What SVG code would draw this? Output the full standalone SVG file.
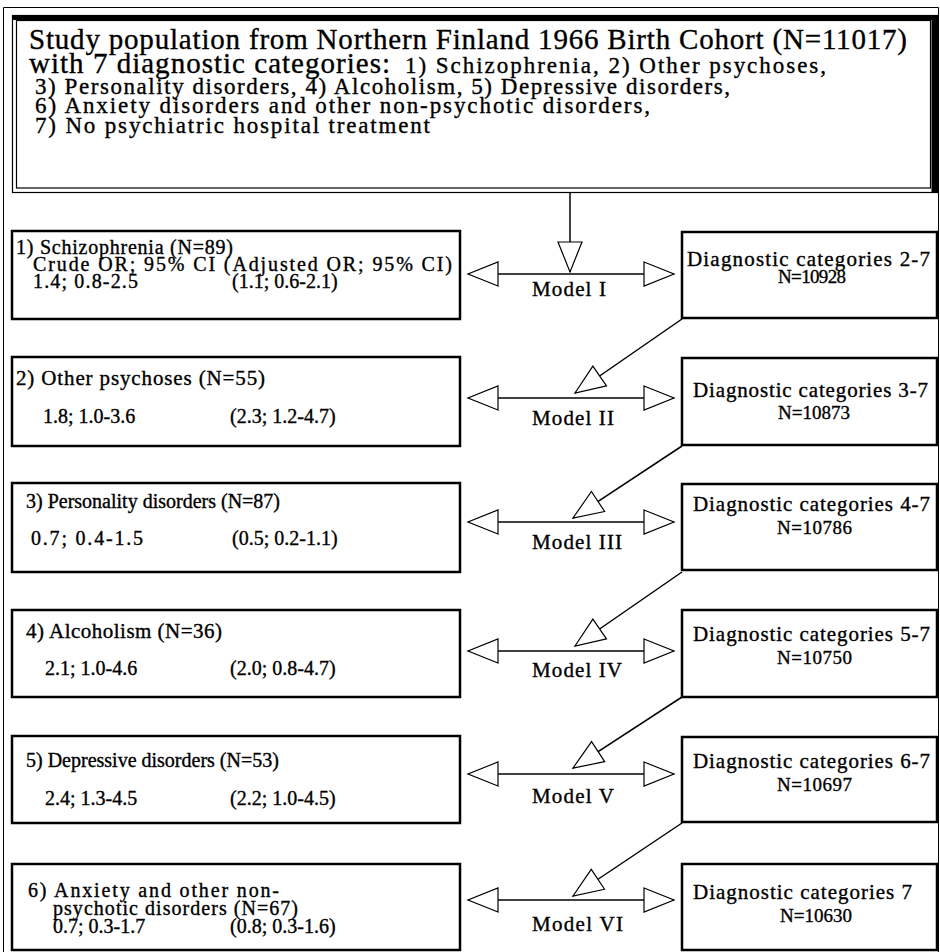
<svg xmlns="http://www.w3.org/2000/svg" width="940" height="952" viewBox="0 0 940 952">
<style>
text{font-family:"Liberation Serif","Times New Roman",serif;fill:#000;stroke:#000;stroke-width:0.35px}
.t1{font-size:29px}
.t2{font-size:23px}
.bx{font-size:21px}
.bs{font-size:20px}
.rb{font-size:21px}
.rn{font-size:19px}
.ml{font-size:21px}
.box{fill:#fff;stroke:#000;stroke-width:2.5}
.con{stroke:#000;stroke-width:1.5;fill:none}
</style>
<defs>
<marker id="hollow" viewBox="0 0 30 24" markerWidth="30" markerHeight="24" refX="30" refY="12" orient="auto-start-reverse" markerUnits="userSpaceOnUse" overflow="visible">
<path d="M0,0 L30,12 L0,24 Z" fill="#fff" stroke="#000" stroke-width="1.2" stroke-linejoin="miter"/>
</marker>
</defs>
<rect width="940" height="952" fill="#fff"/>
<path d="M3.5,952 V7.5 H938.5 V952" fill="none" stroke="#000" stroke-width="1"/>

<g id="title">
<rect x="12.5" y="15.5" width="925" height="177" fill="#fff" stroke="#000" stroke-width="1.2"/>
<rect x="16.5" y="20.5" width="914" height="167.5" fill="none" stroke="#000" stroke-width="1.2"/>
<rect x="12" y="15" width="926" height="5" fill="#000"/>
<rect x="931.5" y="15" width="6.5" height="178" fill="#000"/>
<text class="t1" x="29" y="49" textLength="878">Study population from Northern Finland 1966 Birth Cohort (N=11017)</text>
<text class="t1" x="29" y="73" textLength="361">with 7 diagnostic categories:</text>
<text class="t2" x="405" y="73" textLength="421">1) Schizophrenia, 2) Other psychoses,</text>
<text class="t2" x="35" y="94" textLength="695">3) Personality disorders, 4) Alcoholism, 5) Depressive disorders,</text>
<text class="t2" x="35" y="113" textLength="615">6) Anxiety disorders and other non-psychotic disorders,</text>
<text class="t2" x="35" y="133" textLength="395">7) No psychiatric hospital treatment</text>
</g>

<g id="left1">
<rect class="box" x="12" y="231" width="448" height="88"/>
<text class="bs" x="16" y="254" textLength="217">1) Schizophrenia (N=89)</text>
<text class="bs" x="33" y="271" textLength="419">Crude OR; 95% CI (Adjusted OR; 95% CI)</text>
<text class="bs" x="33" y="288" textLength="105">1.4; 0.8-2.5</text>
<text class="bs" x="232" y="288">(1.1; 0.6-2.1)</text>
</g>
<g id="left2">
<rect class="box" x="12" y="357" width="448" height="89"/>
<text class="bx" x="16" y="385" textLength="249">2) Other psychoses (N=55)</text>
<text class="bs" x="43" y="423">1.8; 1.0-3.6</text>
<text class="bs" x="230" y="423">(2.3; 1.2-4.7)</text>
</g>
<g id="left3">
<rect class="box" x="12" y="483" width="448" height="89"/>
<text class="bs" x="26" y="508">3) Personality disorders (N=87)</text>
<text class="bs" x="31" y="545" textLength="112">0.7; 0.4-1.5</text>
<text class="bs" x="232" y="545">(0.5; 0.2-1.1)</text>
</g>
<g id="left4">
<rect class="box" x="12" y="610" width="448" height="87"/>
<text class="bx" x="26" y="638" textLength="196">4) Alcoholism (N=36)</text>
<text class="bs" x="45" y="675">2.1; 1.0-4.6</text>
<text class="bs" x="230" y="675">(2.0; 0.8-4.7)</text>
</g>
<g id="left5">
<rect class="box" x="12" y="736" width="448" height="87"/>
<text class="bs" x="26" y="767">5) Depressive disorders (N=53)</text>
<text class="bs" x="45" y="805">2.4; 1.3-4.5</text>
<text class="bs" x="230" y="805">(2.2; 1.0-4.5)</text>
</g>
<g id="left6">
<rect class="box" x="12" y="864" width="448" height="86"/>
<text class="bs" x="28" y="897" textLength="251">6) Anxiety and other non-</text>
<text class="bs" x="53" y="915" textLength="245">psychotic disorders (N=67)</text>
<text class="bs" x="53" y="933">0.7; 0.3-1.7</text>
<text class="bs" x="230" y="933">(0.8; 0.3-1.6)</text>
</g>

<g id="right1">
<rect class="box" x="682" y="232" width="255" height="86"/>
<text class="rb" x="687" y="266" textLength="243">Diagnostic categories 2-7</text>
<text class="rn" x="778" y="283" textLength="68">N=10928</text>
</g>
<g id="right2">
<rect class="box" x="682" y="358" width="255" height="87"/>
<text class="rb" x="693" y="397" textLength="235">Diagnostic categories 3-7</text>
<text class="rn" x="778" y="419" textLength="72">N=10873</text>
</g>
<g id="right3">
<rect class="box" x="682" y="484" width="255" height="86"/>
<text class="rb" x="693" y="511" textLength="237">Diagnostic categories 4-7</text>
<text class="rn" x="777" y="534" textLength="75">N=10786</text>
</g>
<g id="right4">
<rect class="box" x="682" y="610" width="255" height="87"/>
<text class="rb" x="693" y="641" textLength="237">Diagnostic categories 5-7</text>
<text class="rn" x="777" y="664" textLength="75">N=10750</text>
</g>
<g id="right5">
<rect class="box" x="682" y="737" width="255" height="85"/>
<text class="rb" x="693" y="768" textLength="237">Diagnostic categories 6-7</text>
<text class="rn" x="777" y="791" textLength="75">N=10697</text>
</g>
<g id="right6">
<rect class="box" x="682" y="864" width="255" height="86"/>
<text class="rb" x="693" y="899" textLength="219">Diagnostic categories 7</text>
<text class="rn" x="780" y="922" textLength="72">N=10630</text>
</g>

<g id="connectors">
<line class="con" x1="570" y1="193" x2="570" y2="272" marker-end="url(#hollow)"/>
<line class="con" x1="468" y1="274" x2="674" y2="274" marker-start="url(#hollow)" marker-end="url(#hollow)"/>
<line class="con" x1="468" y1="398" x2="674" y2="398" marker-start="url(#hollow)" marker-end="url(#hollow)"/>
<line class="con" x1="468" y1="522" x2="674" y2="522" marker-start="url(#hollow)" marker-end="url(#hollow)"/>
<line class="con" x1="468" y1="651" x2="674" y2="651" marker-start="url(#hollow)" marker-end="url(#hollow)"/>
<line class="con" x1="468" y1="774" x2="674" y2="774" marker-start="url(#hollow)" marker-end="url(#hollow)"/>
<line class="con" x1="468" y1="900" x2="674" y2="900" marker-start="url(#hollow)" marker-end="url(#hollow)"/>
<line class="con" x1="682" y1="319" x2="575" y2="393" marker-end="url(#hollow)"/>
<line class="con" x1="682" y1="446" x2="573" y2="518" marker-end="url(#hollow)"/>
<line class="con" x1="682" y1="572" x2="575" y2="646" marker-end="url(#hollow)"/>
<line class="con" x1="682" y1="697" x2="573" y2="768" marker-end="url(#hollow)"/>
<line class="con" x1="682" y1="823" x2="573" y2="896" marker-end="url(#hollow)"/>
</g>

<g id="labels">
<text class="ml" x="532" y="296" textLength="74">Model I</text>
<text class="ml" x="532" y="425" textLength="82">Model II</text>
<text class="ml" x="532" y="549" textLength="90">Model III</text>
<text class="ml" x="532" y="677" textLength="90">Model IV</text>
<text class="ml" x="532" y="803" textLength="82">Model V</text>
<text class="ml" x="532" y="931" textLength="91">Model VI</text>
</g>
</svg>
